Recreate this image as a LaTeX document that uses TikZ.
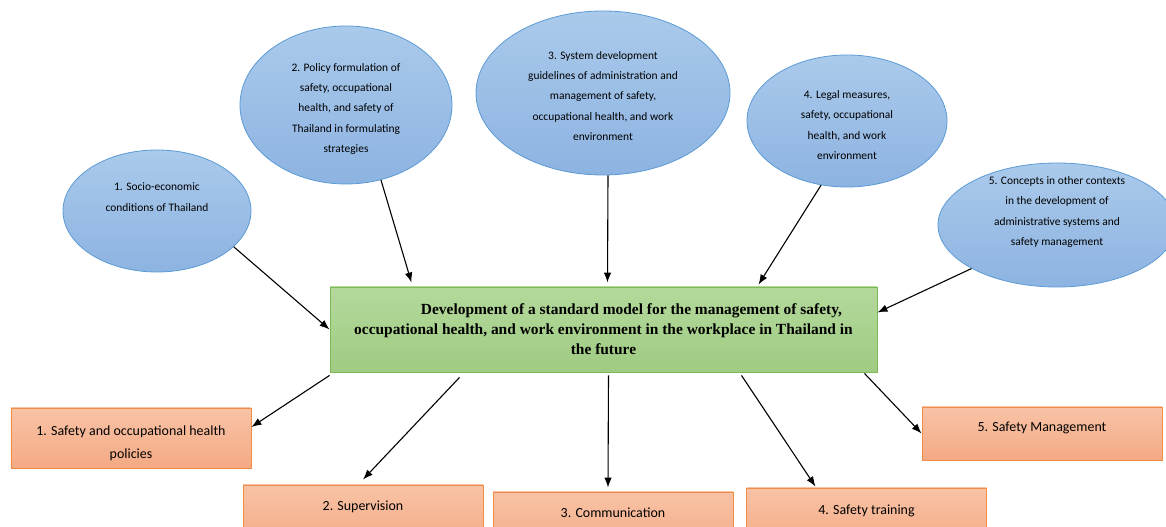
\documentclass[tikz,border=0pt]{standalone}
\usepackage{fontspec}
\setmainfont{Carlito}
\newfontfamily\headfont{Liberation Serif}
\usetikzlibrary{shapes.geometric,arrows.meta}

\definecolor{elltop}{HTML}{AACAEB}
\definecolor{ellbot}{HTML}{8DB3E1}
\definecolor{ellline}{HTML}{5B9BD5}
\definecolor{maintop}{HTML}{B4D99C}
\definecolor{mainbot}{HTML}{9FCB82}
\definecolor{mainline}{HTML}{7DBA55}
\definecolor{boxtop}{HTML}{F8C3A6}
\definecolor{boxbot}{HTML}{F4AA84}
\definecolor{boxline}{HTML}{F08C45}

\tikzset{
  factor/.style={ellipse,draw=ellline,line width=0.8bp,top color=elltop,bottom color=ellbot,inner sep=0pt},
  factortext/.style={align=center,text=black,font=\fontsize{11.5}{20.5}\selectfont},
  mainbox/.style={rectangle,draw=mainline,line width=0.9bp,top color=maintop,bottom color=mainbot,
    minimum width=547bp,minimum height=85bp,align=center,text=black,
    font=\headfont\bfseries\fontsize{15.5}{20}\selectfont},
  outbox/.style={rectangle,draw=boxline,line width=0.9bp,top color=boxtop,bottom color=boxbot,minimum width=240bp},
  outtext/.style={align=center,text=black,font=\fontsize{14}{23}\selectfont},
  link/.style={-{Latex[length=10bp,width=7.5bp]},line width=1.1bp,black}
}

\begin{document}
\begin{tikzpicture}[x=1bp,y=1bp]
  \clip (0,0) rectangle (1166,527);
  \fill[white] (0,0) rectangle (1166,527);

  % influencing factors
  \node[factor,minimum width=188bp,minimum height=122bp] (e1) at (157,316) {};
  \node[factor,minimum width=212bp,minimum height=158bp] (e2) at (346,422) {};
  \node[factor,minimum width=254bp,minimum height=164bp] (e3) at (603,434) {};
  \node[factor,minimum width=200bp,minimum height=132bp] (e4) at (847,406) {};
  \node[factor,minimum width=238bp,minimum height=124bp] (e5) at (1057,302) {};

  \node[factortext] (t1) at (157,330) {1. Socio-economic\\conditions of Thailand};
  \node[factortext] (t2) at (346,418) {2. Policy formulation of\\safety, occupational\\health, and safety of\\Thailand in formulating\\strategies};
  \node[factortext] (t3) at (603,431) {3. System development\\guidelines of administration and\\management of safety,\\occupational health, and work\\environment};
  \node[factortext] (t4) at (847,402) {4. Legal measures,\\safety, occupational\\health, and work\\environment};
  \node[factortext] (t5) at (1057,315) {5. Concepts in other contexts\\in the development of\\administrative systems and\\safety management};

  % the model
  \node[mainbox] (main) at (603.5,197.5) {\hspace*{56bp}Development of a standard model for the management of safety,\\
    occupational health, and work environment in the workplace in Thailand in\\the future};

  % components
  \node[outbox,minimum height=60bp] (b1) at (131,89) {};
  \node[outbox,minimum height=60bp] (b2) at (363,12) {};
  \node[outbox,minimum height=60bp] (b3) at (613,5) {};
  \node[outbox,minimum height=60bp] (b4) at (866.5,9) {};
  \node[outbox,minimum height=53bp] (b5) at (1042,93.5) {};

  \node[outtext] (l1) at (131,83.5) {1. Safety and occupational health\\policies};
  \node[outtext] (l2) at (363,20) {2. Supervision};
  \node[outtext] (l3) at (613,14) {3. Communication};
  \node[outtext] (l4) at (866.5,16) {4. Safety training};
  \node[outtext] (l5) at (1042,99) {5. Safety Management};

  \draw[link] (e1.-25) -- (main.west);
  \draw[link] (e2.-65) -- ([xshift=-192bp,yshift=4bp]main.north);
  \draw[link] ([xshift=5bp]e3.south) -- ([xshift=4bp,yshift=4bp]main.north);
  \draw[link] (e4.248) -- ([xshift=155bp,yshift=2bp]main.north);
  \draw[link] (e5.207) -- ([yshift=17bp]main.east);

  \draw[link] ([yshift=-3bp]main.south west) -- ([yshift=11bp]b1.east);
  \draw[link] ([xshift=-144bp,yshift=-5bp]main.south) -- ([yshift=5bp]b2.north);
  \draw[link] ([xshift=5bp,yshift=-3bp]main.south) -- ([xshift=-5bp,yshift=4bp]b3.north);
  \draw[link] ([xshift=138bp,yshift=-3bp]main.south) -- ([xshift=-51bp,yshift=1bp]b4.north);
  \draw[link] ([xshift=261bp,yshift=-1bp]main.south) -- (b5.west);
\end{tikzpicture}
\end{document}
